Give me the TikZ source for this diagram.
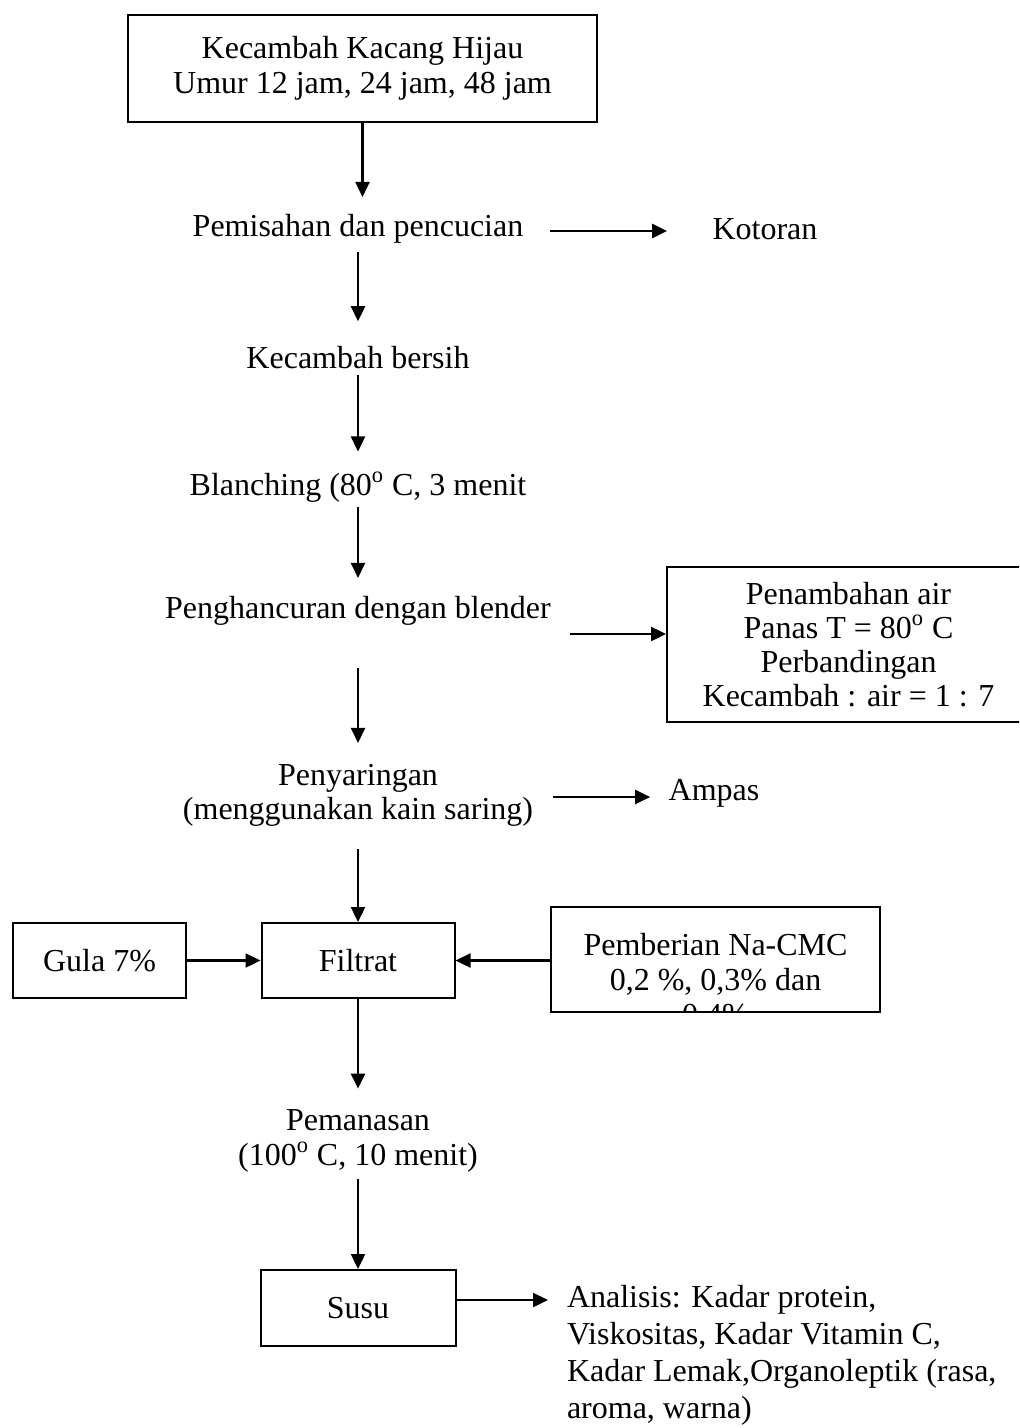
\documentclass[tikz,border=0pt]{standalone}
\usepackage{fontspec}
\setmainfont{Liberation Serif}
\usetikzlibrary{arrows.meta,calc}
\begin{document}
\begin{tikzpicture}[x=0.5pt,y=-0.5pt,
  every node/.style={font=\fontsize{16}{17.5}\selectfont},
  box/.style={draw,line width=1pt,inner sep=0pt,align=center},
  txt/.style={inner sep=0pt,outer sep=0pt,align=center},
  arr/.style={line width=1.2pt,-{Triangle[length=7.5pt,width=7pt]}}]
\clip (0,0) rectangle (1019,1428);
\fill[white] (0,0) rectangle (1019,1428);

\node[box,minimum width=234.5pt,minimum height=53.5pt] (top) at (362.5,68.5)
  {Kecambah Kacang Hijau\\Umur 12 jam, 24 jam, 48 jam};
\node[txt] (pem) at (358,229) {Pemisahan dan pencucian};
\node[txt] (kot) at (765,229) {Kotoran};
\node[txt] (bersih) at (358,358) {Kecambah bersih};
\node[txt] (blanch) at (358,487) {Blanching (80\textsuperscript{o} C, 3 menit};
\node[txt] (peng) at (358,611) {Penghancuran dengan blender};
\node[box,minimum width=181.5pt,minimum height=77.5pt,font=\fontsize{16}{17}\selectfont] (pen) at (848.5,644.5)
  {Penambahan air\\Panas T = 80\textsuperscript{o} C\\Perbandingan\\Kecambah : air = 1 : 7};
\node[txt,font=\fontsize{16}{17}\selectfont] (penyar) at (358,795) {Penyaringan\\(menggunakan kain saring)};
\node[txt] (ampas) at (714,793) {Ampas};
\node[box,minimum width=96.5pt,minimum height=37.5pt] (filtrat) at (358,960.5) {Filtrat};
\node[box,minimum width=86.5pt,minimum height=37.5pt] (gula) at (99.5,960.5) {Gula 7\%};
\node[box,minimum width=164.5pt,minimum height=52.5pt] (cmc) at (715.5,959.5) {};
\begin{scope}
  \clip ([shift={(1pt,-1pt)}]cmc.north west) rectangle ([shift={(-1pt,1pt)}]cmc.south east);
  \node[txt,anchor=north] (cmct) at (715.5,933.5) {Pemberian Na-CMC\\0,2 \%, 0,3\% dan\\0,4\%};
\end{scope}
\node[txt] (peman) at (358,1140.5) {Pemanasan\\(100\textsuperscript{o} C, 10 menit)};
\node[box,minimum width=97.5pt,minimum height=38pt] (susu) at (358,1308) {Susu};
\node[txt,align=left,anchor=north west,font=\fontsize{16}{18.5}\selectfont] (ana) at (567,1285.5)
  {Analisis: Kadar protein,\\Viskositas, Kadar Vitamin C,\\Kadar Lemak,Organoleptik (rasa,\\aroma, warna)};

% vertical connectors
\draw[arr,shorten >=8.75pt] (top.south) -- (top.south |- pem.north);
\draw[arr,shorten <=4.25pt,shorten >=12.75pt] (pem.south) -- (bersih.north);
\draw[arr,shorten <=2.75pt,shorten >=10.25pt] (bersih.south) -- (blanch.north);
\draw[arr,shorten <=2.25pt,shorten >=9.25pt] (blanch.south) -- (peng.north);
\draw[arr,shorten <=21.25pt,shorten >=10.5pt] (peng.south) -- (penyar.north);
\draw[arr,shorten <=11.5pt] (penyar.south) -- (filtrat.north);
\draw[arr,shorten >=10.25pt] (filtrat.south) -- (peman.north);
\draw[arr,shorten <=3.75pt] (peman.south) -- (susu.north);

% horizontal connectors
\draw[arr,shorten <=13.5pt,shorten >=22.75pt] ([yshift=-1pt]pem.east) -- ([yshift=-1pt]pem.east -| kot.west);
\draw[arr,shorten <=9.5pt] ([yshift=-11.5pt]peng.east) -- ([yshift=-11.5pt]peng.east -| pen.west);
\draw[arr,shorten <=10pt,shorten >=9.25pt] ([yshift=-1pt]penyar.east) -- ([yshift=-1pt]penyar.east -| ampas.west);
\draw[arr] (gula.east) -- (filtrat.west);
\draw[arr] (cmc.west |- filtrat.east) -- (filtrat.east);
\draw[arr,shorten >=9.5pt] ([yshift=4pt]susu.east) -- ([yshift=4pt]susu.east -| ana.west);
\end{tikzpicture}
\end{document}
